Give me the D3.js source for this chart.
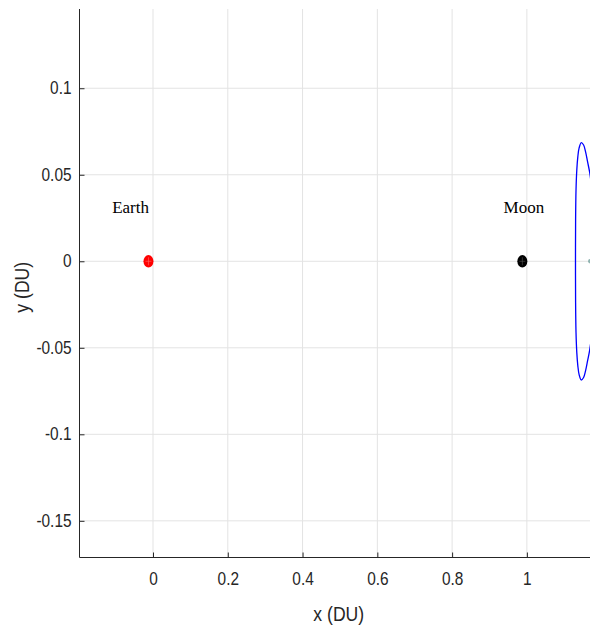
<!DOCTYPE html>
<html>
<head>
<meta charset="utf-8">
<script src="https://cdn.jsdelivr.net/npm/d3@7"></script>
<style>
  html, body { margin: 0; padding: 0; background: #fff; }
  svg { display: block; }
</style>
</head>
<body>
<svg id="chart" width="590" height="630"></svg>
<script>
// Axis ticks
const xTicks = [0, 0.2, 0.4, 0.6, 0.8, 1];
const yTicks = [-0.15, -0.1, -0.05, 0, 0.05, 0.1];
const xTickLabels = ["0", "0.2", "0.4", "0.6", "0.8", "1"];
const yTickLabels = ["-0.15", "-0.1", "-0.05", "0", "0.05", "0.1"];

// Primary bodies (rotating frame, DU)
const bodyNames = ["Earth", "Moon"];
const bodyX = [-0.01215, 0.98785];
const bodyY = [0, 0];
const bodyColors = ["#ff0000", "#000000"];

// Body labels
const labelText = ["Earth", "Moon"];
const labelX = [-0.06, 0.992];
const labelY = [0.03, 0.03];

// Periodic orbit near L2, projected on the x-y plane (DU)
const orbitX = [1.1300, 1.1303, 1.1314, 1.1335, 1.1362, 1.1397, 1.1455, 1.1517, 1.1570, 1.1624, 1.1677, 1.1757, 1.1810, 1.1824,
                1.1810, 1.1757, 1.1677, 1.1624, 1.1570, 1.1517, 1.1455, 1.1397, 1.1362, 1.1335, 1.1314, 1.1303];
const orbitY = [0, 0.0239, 0.0412, 0.0528, 0.0603, 0.0655, 0.0686, 0.0672, 0.0632, 0.0574, 0.0516, 0.0383, 0.0180, 0,
                -0.0180, -0.0383, -0.0516, -0.0574, -0.0632, -0.0672, -0.0686, -0.0655, -0.0603, -0.0528, -0.0412, -0.0239];

// Lagrange point marker
const markX = [1.1695];
const markY = [0];

const svg = d3.select("#chart");
const mLeft = 79.5, mRight = 590, mTop = 9, mBottom = 557.5;

const x = d3.scaleLinear().domain([-0.1966, 1.1688]).range([mLeft, mRight]);
const y = d3.scaleLinear().domain([-0.1712, 0.1458]).range([mBottom, mTop]);

const axisColor = "#262626";
const font = "'Liberation Sans', Arial, sans-serif";
const squeeze = 0.88;   // narrow sans glyphs

// Grid
const grid = svg.append("g");
grid.selectAll("line.vx").data(xTicks).enter().append("line")
  .attr("x1", d => x(d)).attr("x2", d => x(d))
  .attr("y1", mTop).attr("y2", mBottom)
  .attr("stroke", "#e3e3e3").attr("stroke-width", 1);
grid.selectAll("line.hy").data(yTicks).enter().append("line")
  .attr("x1", mLeft).attr("x2", mRight)
  .attr("y1", d => y(d)).attr("y2", d => y(d))
  .attr("stroke", "#e3e3e3").attr("stroke-width", 1);

// Orbit
const orbitPts = orbitX.map((v, i) => [v, orbitY[i]]);
svg.append("path")
  .datum(orbitPts)
  .attr("d", d3.line().x(d => x(d[0])).y(d => y(d[1])).curve(d3.curveCatmullRomClosed))
  .attr("fill", "none")
  .attr("stroke", "#0000ff")
  .attr("stroke-width", 1.3);

// L2 marker
svg.selectAll("circle.mark").data(markX).enter().append("circle")
  .attr("cx", (d) => x(d)).attr("cy", (d, i) => y(markY[i]))
  .attr("r", 2.2).attr("fill", "#8fb3b0");

// Bodies
const bodies = svg.append("g");
bodyNames.forEach((name, i) => {
  const cx = x(bodyX[i]), cy = y(bodyY[i]);
  bodies.append("ellipse")
    .attr("cx", cx).attr("cy", cy)
    .attr("rx", 5).attr("ry", 6.2)
    .attr("fill", bodyColors[i]);
  const mesh = i === 0 ? "#ff6a6a" : "#555555";
  bodies.append("line").attr("x1", cx - 3).attr("x2", cx + 3).attr("y1", cy).attr("y2", cy)
    .attr("stroke", mesh).attr("stroke-width", 0.6);
  bodies.append("line").attr("x1", cx).attr("x2", cx).attr("y1", cy - 4).attr("y2", cy + 4)
    .attr("stroke", mesh).attr("stroke-width", 0.6);
});

// Body labels
svg.selectAll("text.lbl").data(labelText).enter().append("text")
  .attr("x", (d, i) => x(labelX[i]))
  .attr("y", (d, i) => y(labelY[i]))
  .attr("text-anchor", "middle")
  .attr("dominant-baseline", "middle")
  .attr("font-family", "'Liberation Serif', 'DejaVu Serif', serif")
  .attr("font-size", 17)
  .attr("fill", "#000")
  .text(d => d);

// Axes
const xAxis = d3.axisBottom(x).tickValues(xTicks)
  .tickFormat((d, i) => xTickLabels[i]).tickSize(-5).tickPadding(15);
const gx = svg.append("g").attr("transform", `translate(0,${mBottom})`).call(xAxis);
gx.select(".domain").attr("d", `M${mLeft},0H${mRight}`).attr("stroke", axisColor);
gx.selectAll(".tick line").attr("stroke", axisColor);
gx.selectAll(".tick text").attr("fill", axisColor).attr("font-size", 17.5).attr("font-family", font)
  .attr("transform", `scale(${squeeze},1)`);

const yAxis = d3.axisLeft(y).tickValues(yTicks)
  .tickFormat((d, i) => yTickLabels[i]).tickSize(-5).tickPadding(8);
const gy = svg.append("g").attr("transform", `translate(${mLeft},0)`).call(yAxis);
gy.select(".domain").attr("d", `M0,${mTop}V${mBottom}`).attr("stroke", axisColor);
gy.selectAll(".tick line").attr("stroke", axisColor);
gy.selectAll(".tick text").attr("fill", axisColor).attr("font-size", 17.5).attr("font-family", font)
  .attr("x", -8 / squeeze)
  .attr("transform", `scale(${squeeze},1)`);

// Axis titles
svg.append("text")
  .attr("transform", `translate(${(mLeft + mRight) / 2 + 4},621) scale(${squeeze},1)`)
  .attr("text-anchor", "middle")
  .attr("font-family", font).attr("font-size", 20).attr("fill", axisColor)
  .text("x (DU)");
svg.append("text")
  .attr("transform", `translate(29,${(mTop + mBottom) / 2 + 4}) rotate(-90) scale(${squeeze},1)`)
  .attr("text-anchor", "middle")
  .attr("font-family", font).attr("font-size", 20).attr("fill", axisColor)
  .text("y (DU)");
</script>
</body>
</html>
